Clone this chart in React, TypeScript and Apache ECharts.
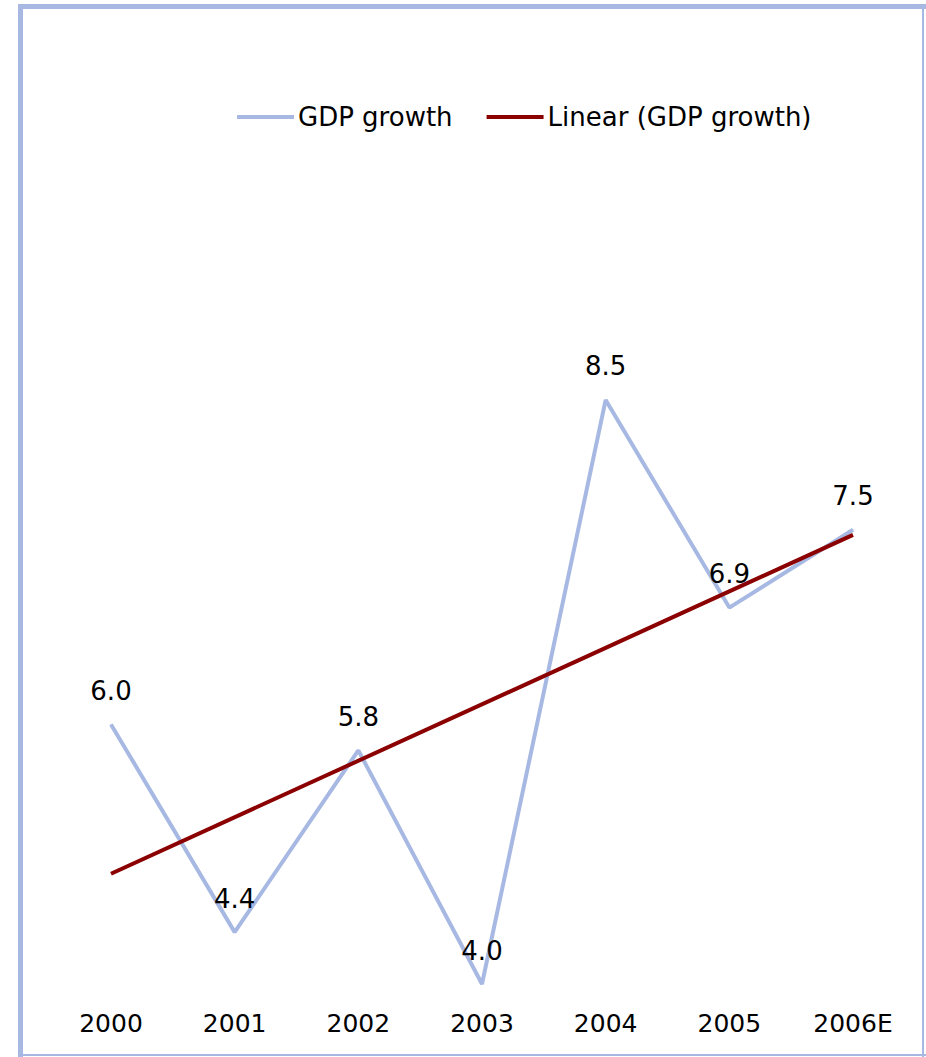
import React, { useEffect, useRef } from "react";
import * as echarts from "echarts";

const categories = ["2000", "2001", "2002", "2003", "2004", "2005", "2006E"];
const gdpGrowth = [6.0, 4.4, 5.8, 4.0, 8.5, 6.9, 7.5];
// Linear trend line endpoints: [category index, value]
const trendPoints = [
  [0, 4.85],
  [6, 7.46],
];

const BLUE = "#A7B9E3";
const RED = "#8B0000";
const FONT = "DejaVu Sans";

export default function App() {
  const ref = useRef<HTMLDivElement>(null);

  useEffect(() => {
    if (!ref.current) return;
    const chart = echarts.init(ref.current, null, { renderer: "svg" });
    chart.setOption({
      animation: false,
      backgroundColor: "#ffffff",
      textStyle: { fontFamily: FONT },
      graphic: [
        { type: "line", shape: { x1: 20.5, y1: 4, x2: 20.5, y2: 1057 }, style: { stroke: BLUE, lineWidth: 5 } },
        { type: "line", shape: { x1: 18, y1: 6.5, x2: 926, y2: 6.5 }, style: { stroke: BLUE, lineWidth: 5 } },
        { type: "line", shape: { x1: 923, y1: 6, x2: 923, y2: 1057 }, style: { stroke: BLUE, lineWidth: 2 } },
        { type: "line", shape: { x1: 18, y1: 1055, x2: 926, y2: 1055 }, style: { stroke: BLUE, lineWidth: 2 } },
      ],
      legend: {
        left: 232,
        top: 99,
        icon: "rect",
        itemWidth: 57,
        itemHeight: 4,
        itemGap: 34,
        textStyle: { fontFamily: FONT, fontSize: 26, color: "#000", padding: [0, 0, 0, -1] },
        data: ["GDP growth", "Linear (GDP growth)"],
      },
      grid: { left: 111, right: 73, top: 335, bottom: 47 },
      xAxis: {
        type: "category",
        data: categories,
        boundaryGap: false,
        axisLine: { show: false },
        axisTick: { show: false },
        axisLabel: { fontFamily: FONT, fontSize: 25, color: "#000", margin: 1 },
        splitLine: { show: false },
      },
      yAxis: {
        type: "value",
        min: 3.8,
        max: 9,
        show: false,
        splitLine: { show: false },
      },
      series: [
        {
          name: "GDP growth",
          type: "line",
          data: gdpGrowth,
          symbol: "circle",
          symbolSize: 1,
          itemStyle: { color: BLUE },
          lineStyle: { color: BLUE, width: 4 },
          label: {
            show: true,
            position: "top",
            distance: 20,
            fontFamily: FONT,
            fontSize: 26,
            color: "#000",
            formatter: (p: any) => Number(p.value).toFixed(1),
          },
          z: 2,
        },
        {
          name: "Linear (GDP growth)",
          type: "line",
          data: trendPoints,
          symbol: "none",
          itemStyle: { color: RED },
          lineStyle: { color: RED, width: 4 },
          z: 3,
        },
      ],
    });
    return () => chart.dispose();
  }, []);

  return (
    <div
      ref={ref}
      style={{ position: "fixed", left: 0, top: 0, width: 926, height: 1057 }}
    />
  );
}
